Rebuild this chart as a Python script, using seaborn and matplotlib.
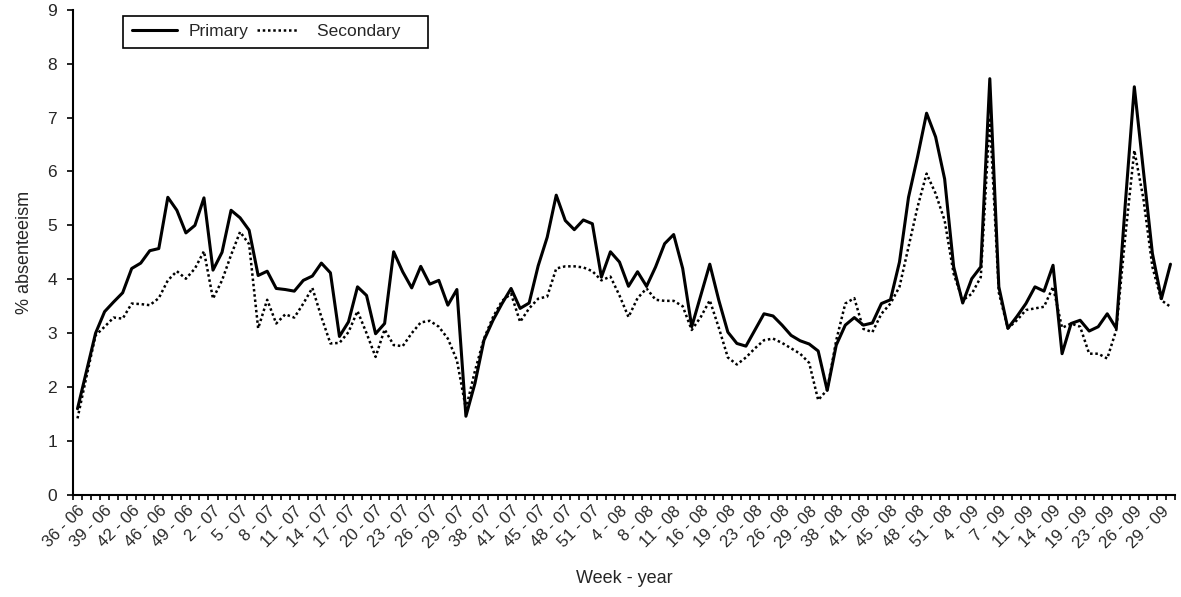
import numpy as np
import pandas as pd
import matplotlib
matplotlib.use("Agg")
import matplotlib.pyplot as plt
from matplotlib.ticker import FixedLocator
import seaborn as sns

# week - year labels, one label every 3rd school week
week_labels = ["36 - 06", "39 - 06", "42 - 06", "46 - 06", "49 - 06", "2 - 07", "5 - 07",
               "8 - 07", "11 - 07", "14 - 07", "17 - 07", "20 - 07", "23 - 07", "26 - 07",
               "29 - 07", "38 - 07", "41 - 07", "45 - 07", "48 - 07", "51 - 07", "4 - 08",
               "8 - 08", "11 - 08", "16 - 08", "19 - 08", "23 - 08", "26 - 08", "29 - 08",
               "38 - 08", "41 - 08", "45 - 08", "48 - 08", "51 - 08", "4 - 09", "7 - 09",
               "11 - 09", "14 - 09", "19 - 09", "23 - 09", "26 - 09", "29 - 09"]

# % absenteeism per school week
primary = [1.60, 2.30, 3.00, 3.40, 3.58, 3.75, 4.20, 4.30, 4.53, 4.57,
           5.52, 5.28, 4.86, 5.00, 5.51, 4.17, 4.50, 5.28, 5.14, 4.91,
           4.07, 4.15, 3.83, 3.81, 3.78, 3.98, 4.06, 4.30, 4.12, 2.94,
           3.21, 3.86, 3.70, 2.99, 3.18, 4.51, 4.14, 3.84, 4.24, 3.91,
           3.98, 3.52, 3.81, 1.46, 2.07, 2.87, 3.24, 3.55, 3.83, 3.46,
           3.56, 4.25, 4.78, 5.56, 5.09, 4.92, 5.10, 5.03, 4.04, 4.51,
           4.32, 3.87, 4.14, 3.87, 4.23, 4.66, 4.83, 4.20, 3.12, 3.70,
           4.28, 3.61, 3.02, 2.81, 2.76, 3.06, 3.36, 3.32, 3.15, 2.96,
           2.86, 2.80, 2.67, 1.94, 2.78, 3.15, 3.29, 3.15, 3.19, 3.55,
           3.62, 4.32, 5.52, 6.27, 7.08, 6.64, 5.86, 4.23, 3.56, 4.01,
           4.23, 7.72, 3.86, 3.09, 3.31, 3.55, 3.86, 3.78, 4.26, 2.62,
           3.18, 3.24, 3.04, 3.12, 3.36, 3.09, 5.40, 7.57, 6.02, 4.48,
           3.64, 4.28]

secondary = [1.42, 2.20, 2.96, 3.12, 3.29, 3.27, 3.55, 3.54, 3.52, 3.65,
             3.98, 4.15, 4.01, 4.20, 4.52, 3.64, 3.98, 4.45, 4.88, 4.65,
             3.09, 3.62, 3.18, 3.35, 3.29, 3.55, 3.84, 3.30, 2.81, 2.82,
             3.02, 3.41, 3.00, 2.56, 3.07, 2.78, 2.76, 3.00, 3.20, 3.23,
             3.12, 2.90, 2.50, 1.60, 2.30, 2.90, 3.30, 3.60, 3.73, 3.21,
             3.46, 3.64, 3.68, 4.20, 4.24, 4.24, 4.22, 4.15, 3.98, 4.05,
             3.70, 3.30, 3.65, 3.83, 3.62, 3.60, 3.60, 3.50, 3.06, 3.30,
             3.61, 3.10, 2.55, 2.42, 2.55, 2.72, 2.87, 2.90, 2.82, 2.72,
             2.62, 2.45, 1.76, 1.95, 2.87, 3.55, 3.65, 3.08, 3.02, 3.36,
             3.55, 3.86, 4.60, 5.34, 5.96, 5.59, 5.09, 4.10, 3.61, 3.73,
             4.04, 7.00, 3.75, 3.09, 3.24, 3.43, 3.46, 3.49, 3.86, 3.10,
             3.18, 3.12, 2.62, 2.62, 2.53, 3.06, 4.80, 6.39, 5.50, 4.23,
             3.61, 3.49]

n = len(primary)
df = pd.DataFrame({"week": np.arange(n), "Primary": primary, "Secondary": secondary})

sns.set_style("ticks")
plt.rcParams['font.family'] = ['Liberation Sans', 'DejaVu Sans']

fig = plt.figure(figsize=(11.81, 5.97), dpi=100)
ax = fig.add_axes([0.0618, 0.1709, 0.9331, 0.8129])

sns.lineplot(data=df, x="week", y="Primary", color="black", linewidth=2.2,
             label="Primary", ax=ax)
sns.lineplot(data=df, x="week", y="Secondary", color="black", linewidth=1.8,
             linestyle=(0, (1, 1.1)), label="Secondary", ax=ax)

ax.set_xlim(-0.5, n - 0.5)
ax.set_ylim(0, 9)
ax.set_yticks(range(0, 10))

# labels every 3rd week, small ticks between every week (excel style)
ax.xaxis.set_major_locator(FixedLocator(np.arange(0, 3 * len(week_labels), 3)))
ax.set_xticklabels(week_labels, rotation=45, ha="right", va="top",
                   rotation_mode="anchor", fontsize=12)
ax.xaxis.set_minor_locator(FixedLocator(np.arange(-0.5, n, 1)))
ax.tick_params(axis="x", which="major", length=0, pad=6)
ax.tick_params(axis="x", which="minor", length=3.5, width=1.2, color="black")
ax.tick_params(axis="y", length=4.5, width=1.2, pad=7, labelsize=12.5, color="black")

for s in ["top", "right"]:
    ax.spines[s].set_visible(False)
for s in ["left", "bottom"]:
    ax.spines[s].set_linewidth(1.5)
    ax.spines[s].set_color("black")

ax.set_xlabel("Week - year", fontsize=13, labelpad=14)
ax.set_ylabel("% absenteeism", fontsize=13, labelpad=10)

handles, labels = ax.get_legend_handles_labels()
labels = ["Primary", "Secondary    "]
leg = ax.legend(handles, labels, loc="upper left", bbox_to_anchor=(0.0454, 0.9877),
                ncol=2, frameon=True, fancybox=False, edgecolor="black", framealpha=1,
                fontsize=12.5, handlelength=2.6, columnspacing=0.6, handletextpad=0.7,
                borderpad=0.5, borderaxespad=0)
leg.get_frame().set_linewidth(1.2)
# the dotted key in the original is a bit shorter than the solid one
dot_line = leg.get_lines()[1]
xd, yd = dot_line.get_xdata(), dot_line.get_ydata()
w = xd[-1] - xd[0]
dot_line.set_data(np.linspace(xd[0] - 0.05 * w, xd[0] + 0.85 * w, len(xd)), yd)

fig.savefig("out.png", dpi=100)
